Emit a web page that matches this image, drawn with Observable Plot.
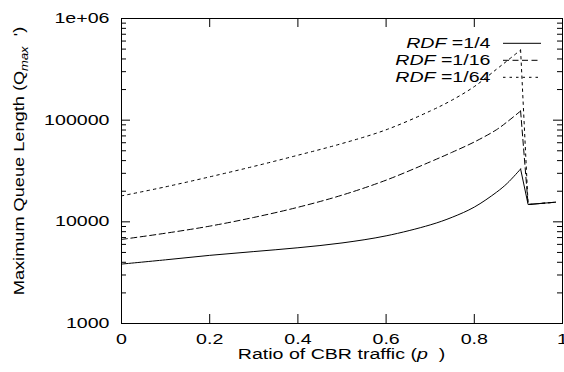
<!DOCTYPE html>
<html><head><meta charset="utf-8">
<script src="https://cdn.jsdelivr.net/npm/d3@7"></script>
<script src="https://cdn.jsdelivr.net/npm/@observablehq/plot@0.6"></script>
<style>
html,body{margin:0;padding:0;background:#fff;}
#chart svg{display:block;}
</style></head><body><div id="chart"></div>
<script>
// Ratio of CBR traffic (p)
const ratio = [0, 0.1, 0.2, 0.3, 0.4, 0.5, 0.6, 0.7, 0.75, 0.8, 0.85, 0.875, 0.905, 0.922, 0.984];
// Maximum queue length per RDF
const rdf4  = [3840, 4230, 4680, 5100, 5560, 6200, 7280, 9330, 11100, 13960, 19500, 24000, 33100, 14800, 15600];
const rdf16 = [6710, 7730, 9070, 11050, 13900, 18300, 25700, 38900, 48400, 61000, 80400, 96600, 123000, 14800, 15600];
const rdf64 = [18000, 22100, 27700, 35100, 45200, 58900, 80400, 123000, 158000, 214000, 316000, 385000, 490000, 14800, 15600];
const seriesLabels = ["1/4", "1/16", "1/64"];
const xTicks = [0, 0.2, 0.4, 0.6, 0.8, 1];
const xTickLabels = ["0", "0.2", "0.4", "0.6", "0.8", "1"];
const yTicks = [1000, 10000, 100000, 1000000];
const yTickLabels = ["1000", "10000", "100000", "1e+06"];

const FONT = '"Liberation Sans", Arial, Helvetica, sans-serif';
const W = 564, H = 372, mL = 121, mR = 2, mT = 18, mB = 49;
const fw = W - mL - mR, fh = H - mT - mB;
const dashes = [null, "6,3.5", "2.5,4"];
const seriesValues = [rdf4, rdf16, rdf64];
const peakIndex = ratio.indexOf(0.905);

const yMinor = [];
for (let k = 3; k < 6; k++) for (let m = 2; m <= 9; m++) yMinor.push(m * Math.pow(10, k));

const lineMarks = seriesValues.flatMap((vals, s) => {
  const pts = ratio.map((p, i) => ({p, v: vals[i]}));
  const opts = {x: "p", y: "v", stroke: "black", strokeWidth: 1, strokeDasharray: dashes[s] || undefined};
  return [
    Plot.line(pts.slice(0, peakIndex + 1), {...opts, curve: "catmull-rom"}),
    Plot.line(pts.slice(peakIndex), {...opts, curve: "linear"})
  ];
});

const plot = Plot.plot({
  width: W, height: H,
  marginLeft: mL, marginRight: mR, marginTop: mT, marginBottom: mB,
  style: {fontFamily: FONT, fontSize: "14px", background: "#fff", color: "#000"},
  x: {domain: [0, 1]},
  y: {type: "log", domain: [1000, 1000000]},
  marks: [
    Plot.axisX(xTicks, {tickSize: 0, tickPadding: 11, fontSize: 14, label: null,
      tickFormat: d => xTickLabels[xTicks.indexOf(d)]}),
    Plot.axisY(yTicks, {tickSize: 0, tickPadding: 12, fontSize: 14, label: null,
      tickFormat: d => yTickLabels[yTicks.indexOf(d)]}),
    Plot.tickX(xTicks, {x: d => d, insetTop: fh - 9, stroke: "black"}),
    Plot.tickX(xTicks, {x: d => d, insetBottom: fh - 9, stroke: "black"}),
    Plot.tickY(yTicks, {y: d => d, insetRight: fw - 9, stroke: "black"}),
    Plot.tickY(yTicks, {y: d => d, insetLeft: fw - 9, stroke: "black"}),
    Plot.tickY(yMinor, {y: d => d, insetRight: fw - 5, stroke: "black"}),
    Plot.tickY(yMinor, {y: d => d, insetLeft: fw - 5, stroke: "black"}),
    ...lineMarks,
    Plot.frame({stroke: "black", strokeWidth: 1})
  ]
});

document.getElementById("chart").appendChild(plot);
const svg = d3.select(plot);

// horizontally stretched tick labels (glyphs widened, anchor kept)
svg.selectAll('g[aria-label="x-axis tick label"] text, g[aria-label="y-axis tick label"] text').each(function () {
  const len = this.getComputedTextLength();
  if (len > 0) {
    this.setAttribute("textLength", (len * 1.4).toFixed(2));
    this.setAttribute("lengthAdjust", "spacingAndGlyphs");
  }
});

// legend
const lg = svg.append("g").attr("font-family", FONT).attr("font-size", 14).attr("fill", "black");
seriesLabels.forEach((lab, i) => {
  const y = 43.3 + i * 17;
  const t = lg.append("text").attr("transform", `translate(490.5,${y}) scale(1.4,1)`)
    .attr("text-anchor", "end").attr("dy", "0.35em");
  t.append("tspan").attr("font-style", "italic").text("RDF");
  t.append("tspan").text(" =" + lab);
  const ln = lg.append("line").attr("x1", 503).attr("x2", 541).attr("y1", y).attr("y2", y)
    .attr("stroke", "black").attr("stroke-width", 1);
  if (dashes[i]) ln.attr("stroke-dasharray", dashes[i]);
});

// axis titles
const yl = svg.append("text").attr("font-family", FONT).attr("font-size", 14)
  .attr("transform", "translate(23.5,161) rotate(-90) scale(1.3,1)").attr("text-anchor", "middle");
yl.append("tspan").text("Maximum Queue Length (Q");
yl.append("tspan").attr("font-style", "italic").attr("font-size", 10).attr("dy", 4).text("max");
yl.append("tspan").attr("dy", -4).text("\u00a0\u00a0')");

const xl = svg.append("text").attr("font-family", FONT).attr("font-size", 14)
  .attr("transform", "translate(341.5,358.5) scale(1.4,1)").attr("text-anchor", "middle");
xl.append("tspan").text("Ratio of CBR traffic (");
xl.append("tspan").attr("font-style", "italic").text("p");
xl.append("tspan").text("\u00a0\u00a0)");
</script></body></html>
